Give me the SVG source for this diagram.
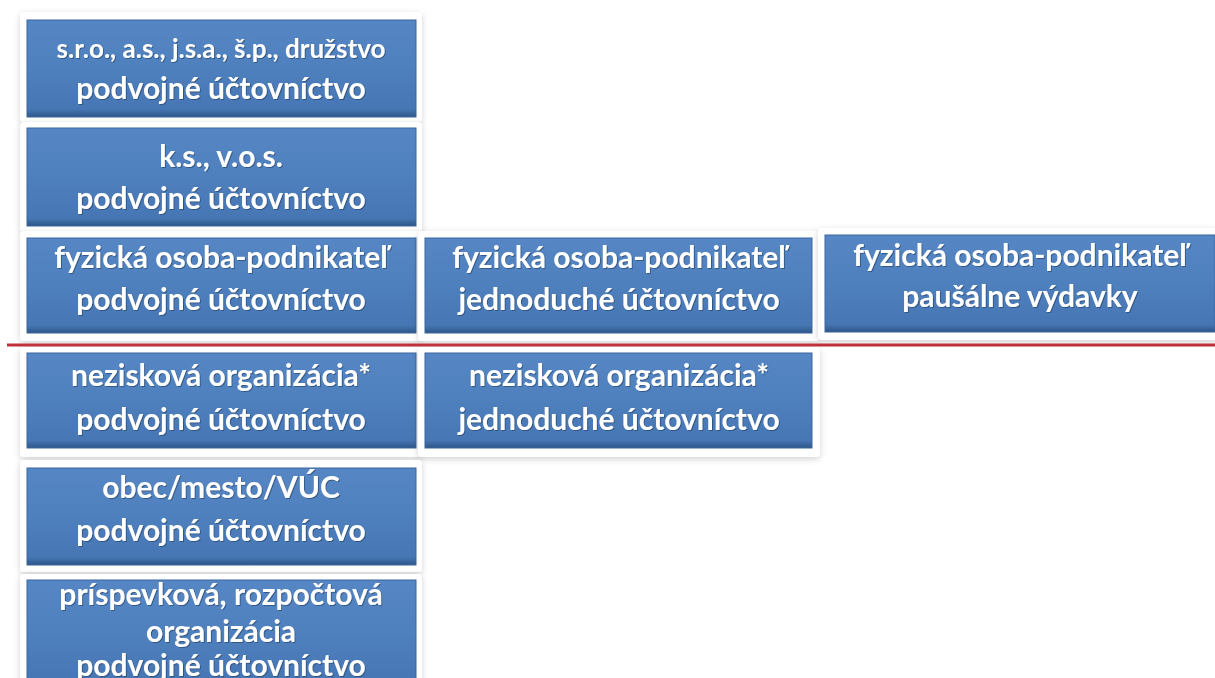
<svg xmlns="http://www.w3.org/2000/svg" width="1215" height="678" viewBox="0 0 1215 678">
<defs>
<linearGradient id="blue" x1="0" y1="0" x2="0" y2="1">
<stop offset="0" stop-color="#5687c4"/>
<stop offset="0.5" stop-color="#4f80be"/>
<stop offset="0.92" stop-color="#4676b3"/>
<stop offset="1" stop-color="#2e5687"/>
</linearGradient>
<filter id="sh" x="-10%" y="-10%" width="120%" height="130%">
<feDropShadow dx="0" dy="2" stdDeviation="3" flood-color="#000" flood-opacity="0.18"/>
</filter>
<filter id="ts" x="-5%" y="-20%" width="110%" height="150%">
<feDropShadow dx="1" dy="1" stdDeviation="0.6" flood-color="#1d3a60" flood-opacity="0.6"/>
</filter>
</defs>
<style>
.card{fill:#ffffff;filter:url(#sh)}
.box{fill:url(#blue);stroke:#3a679e;stroke-width:1}
.t{font-family:Lato,"Liberation Sans",sans-serif;font-weight:bold;fill:#ffffff;text-anchor:middle;font-size:30px;filter:url(#ts)}
.s{font-size:26px}
</style>
<rect width="1215" height="678" fill="#ffffff"/>

<g id="n1">
<rect class="card" x="20" y="12" width="402" height="110" rx="4"/>
<rect class="box" x="27" y="20" width="389" height="97"/>
<text class="t s" x="221" y="58">s.r.o., a.s., j.s.a., š.p., družstvo</text>
<text class="t" x="221" y="99">podvojné účtovníctvo</text>
</g>

<g id="n2">
<rect class="card" x="20" y="122" width="402" height="110" rx="4"/>
<rect class="box" x="27" y="128" width="389" height="98"/>
<text class="t" x="221" y="167">k.s., v.o.s.</text>
<text class="t" x="221" y="209">podvojné účtovníctvo</text>
</g>

<g id="n3">
<rect class="card" x="20" y="231" width="402" height="110" rx="4"/>
<rect class="box" x="27" y="238" width="389" height="95"/>
<text class="t" x="221" y="268">fyzická osoba-podnikateľ</text>
<text class="t" x="221" y="310">podvojné účtovníctvo</text>
</g>

<g id="n4">
<rect class="card" x="418" y="231" width="402" height="110" rx="4"/>
<rect class="box" x="425" y="238" width="387" height="95"/>
<text class="t" x="619" y="268">fyzická osoba-podnikateľ</text>
<text class="t" x="619" y="310">jednoduché účtovníctvo</text>
</g>

<g id="n5">
<rect class="card" x="818" y="228" width="400" height="112" rx="4"/>
<rect class="box" x="825" y="235" width="390" height="97"/>
<text class="t" x="1020" y="266">fyzická osoba-podnikateľ</text>
<text class="t" x="1020" y="307">paušálne výdavky</text>
</g>

<g id="n6">
<rect class="card" x="20" y="347" width="402" height="110" rx="4"/>
<rect class="box" x="27" y="353" width="389" height="95"/>
<text class="t" x="221" y="386">nezisková organizácia*</text>
<text class="t" x="221" y="430">podvojné účtovníctvo</text>
</g>

<g id="n7">
<rect class="card" x="418" y="347" width="402" height="110" rx="4"/>
<rect class="box" x="425" y="353" width="387" height="95"/>
<text class="t" x="619" y="386">nezisková organizácia*</text>
<text class="t" x="619" y="430">jednoduché účtovníctvo</text>
</g>

<g id="n8">
<rect class="card" x="20" y="460" width="402" height="112" rx="4"/>
<rect class="box" x="27" y="468" width="389" height="97"/>
<text class="t" x="221" y="498">obec/mesto/VÚC</text>
<text class="t" x="221" y="541">podvojné účtovníctvo</text>
</g>

<g id="n9">
<rect class="card" x="20" y="574" width="402" height="120" rx="4"/>
<rect class="box" x="27" y="580" width="389" height="110"/>
<text class="t" x="221" y="605">príspevková, rozpočtová</text>
<text class="t" x="221" y="642">organizácia</text>
<text class="t" x="221" y="676">podvojné účtovníctvo</text>
</g>

<g id="connectors">
<line x1="7" y1="345" x2="1215" y2="345" stroke="#c0303a" stroke-width="3"/>
</g>
</svg>
